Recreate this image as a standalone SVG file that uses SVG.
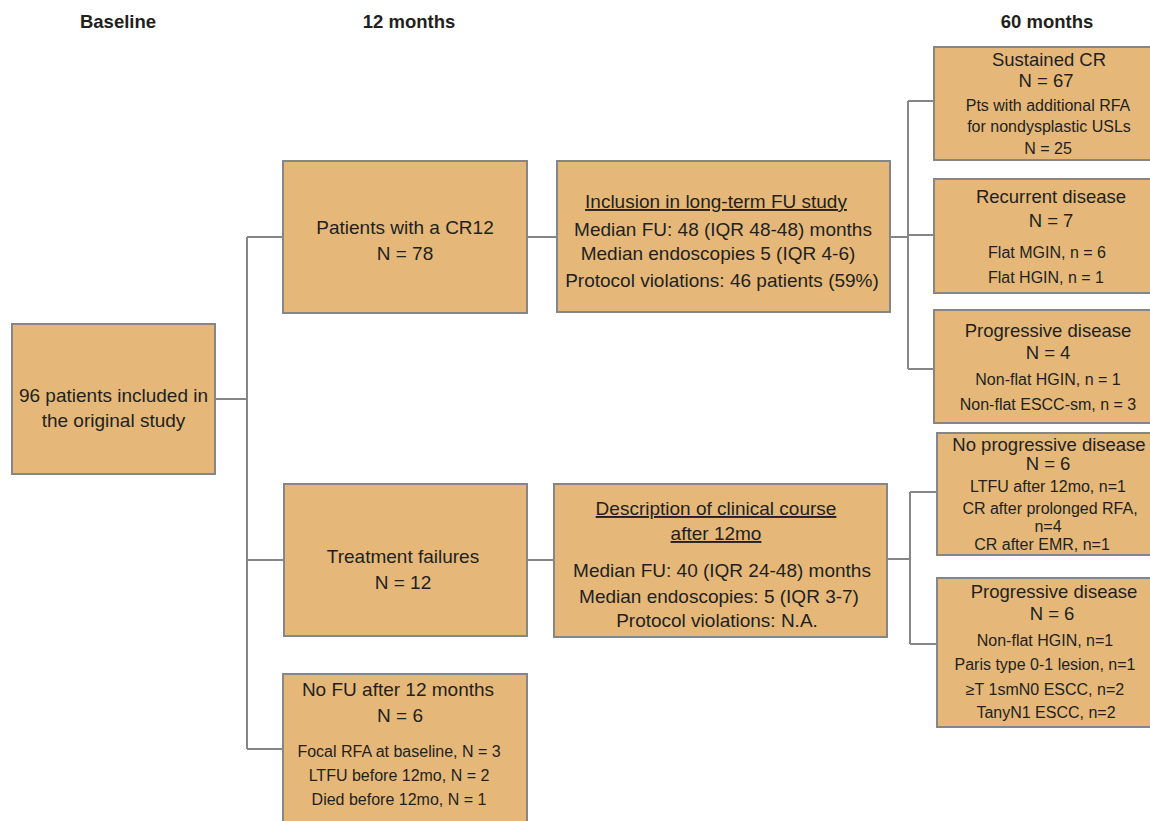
<svg xmlns="http://www.w3.org/2000/svg" width="1150" height="821" viewBox="0 0 1150 821">
<style>
.box{fill:#e5b879;stroke:#858688;stroke-width:2}
.ln{stroke:#858688;stroke-width:2;fill:none}
text{font-family:"Liberation Sans",Arial,sans-serif;fill:#231f20;text-anchor:middle}
.hd{font-size:18.5px;font-weight:bold}
.m{font-size:19px}
.t{font-size:18.5px}
.d{font-size:16px}
.u{text-decoration:underline}
</style>
<rect width="1150" height="821" fill="#ffffff"/>
<g id="headers">
<text class="hd" x="118" y="28">Baseline</text>
<text class="hd" x="409" y="28">12 months</text>
<text class="hd" x="1047" y="28">60 months</text>
</g>
<g id="connectors">
<path class="ln" d="M215,399H247M247,237V749M247,237H283M247,560H284M247,749H283"/>
<path class="ln" d="M527,237H557M890,237H908M908,101V369M908,101H934M908,235H934M908,369H934"/>
<path class="ln" d="M527,560H554M887,559H910M910,492V644M910,492H937M910,644H937"/>
</g>
<g id="n-baseline">
<rect class="box" x="12" y="324" width="203" height="150"/>
<text class="m" x="113.5" y="402">96 patients included in</text>
<text class="m" x="113.5" y="427">the original study</text>
</g>
<g id="n-cr12">
<rect class="box" x="283" y="161" width="244" height="152"/>
<text class="m" x="405" y="234">Patients with a CR12</text>
<text class="m" x="405" y="260">N = 78</text>
</g>
<g id="n-failures">
<rect class="box" x="284" y="484" width="243" height="152"/>
<text class="m" x="403" y="563">Treatment failures</text>
<text class="m" x="403" y="589">N = 12</text>
</g>
<g id="n-nofu">
<rect class="box" x="283" y="674" width="244" height="160"/>
<text class="m" x="398" y="696">No FU after 12 months</text>
<text class="m" x="400" y="722">N = 6</text>
<text class="d" x="399" y="757">Focal RFA at baseline, N = 3</text>
<text class="d" x="399" y="781">LTFU before 12mo, N = 2</text>
<text class="d" x="399" y="805">Died before 12mo, N = 1</text>
</g>
<g id="n-inclusion">
<rect class="box" x="557" y="161" width="333" height="151"/>
<text class="m u" x="716" y="208">Inclusion in long-term FU study</text>
<text class="m" x="723" y="236">Median FU: 48 (IQR 48-48) months</text>
<text class="m" x="718" y="260">Median endoscopies 5 (IQR 4-6)</text>
<text class="m" x="722" y="287">Protocol violations: 46 patients (59%)</text>
</g>
<g id="n-description">
<rect class="box" x="554" y="484" width="333" height="153"/>
<text class="m u" x="716" y="515">Description of clinical course</text>
<text class="m u" x="716" y="540">after 12mo</text>
<text class="m" x="722" y="577">Median FU: 40 (IQR 24-48) months</text>
<text class="m" x="719" y="603">Median endoscopies: 5 (IQR 3-7)</text>
<text class="m" x="717" y="627">Protocol violations: N.A.</text>
</g>
<g id="n-sustained">
<rect class="box" x="934" y="47" width="230" height="113"/>
<text class="t" x="1049" y="66">Sustained CR</text>
<text class="t" x="1046" y="87">N = 67</text>
<text class="d" x="1048" y="111">Pts with additional RFA</text>
<text class="d" x="1049" y="132">for nondysplastic USLs</text>
<text class="d" x="1048" y="154">N = 25</text>
</g>
<g id="n-recurrent">
<rect class="box" x="934" y="179" width="230" height="114"/>
<text class="t" x="1051" y="203">Recurrent disease</text>
<text class="t" x="1051" y="227">N = 7</text>
<text class="d" x="1047" y="258">Flat MGIN, n = 6</text>
<text class="d" x="1046" y="283">Flat HGIN, n = 1</text>
</g>
<g id="n-progressive1">
<rect class="box" x="934" y="310" width="230" height="113"/>
<text class="t" x="1048" y="337">Progressive disease</text>
<text class="t" x="1048" y="359">N = 4</text>
<text class="d" x="1048" y="385">Non-flat HGIN, n = 1</text>
<text class="d" x="1048" y="410">Non-flat ESCC-sm, n = 3</text>
</g>
<g id="n-noprogressive">
<rect class="box" x="937" y="433" width="227" height="122"/>
<text class="t" x="1049" y="451">No progressive disease</text>
<text class="t" x="1048" y="470">N = 6</text>
<text class="d" x="1048" y="492">LTFU after 12mo, n=1</text>
<text class="d" x="1050" y="514">CR after prolonged RFA,</text>
<text class="d" x="1048" y="532">n=4</text>
<text class="d" x="1042" y="550">CR after EMR, n=1</text>
</g>
<g id="n-progressive2">
<rect class="box" x="937" y="578" width="227" height="149"/>
<text class="t" x="1054" y="598">Progressive disease</text>
<text class="t" x="1052" y="620">N = 6</text>
<text class="d" x="1045" y="646">Non-flat HGIN, n=1</text>
<text class="d" x="1045" y="670">Paris type 0-1 lesion, n=1</text>
<text class="d" x="1045" y="695">≥T 1smN0 ESCC, n=2</text>
<text class="d" x="1046" y="718">TanyN1 ESCC, n=2</text>
</g>
</svg>
